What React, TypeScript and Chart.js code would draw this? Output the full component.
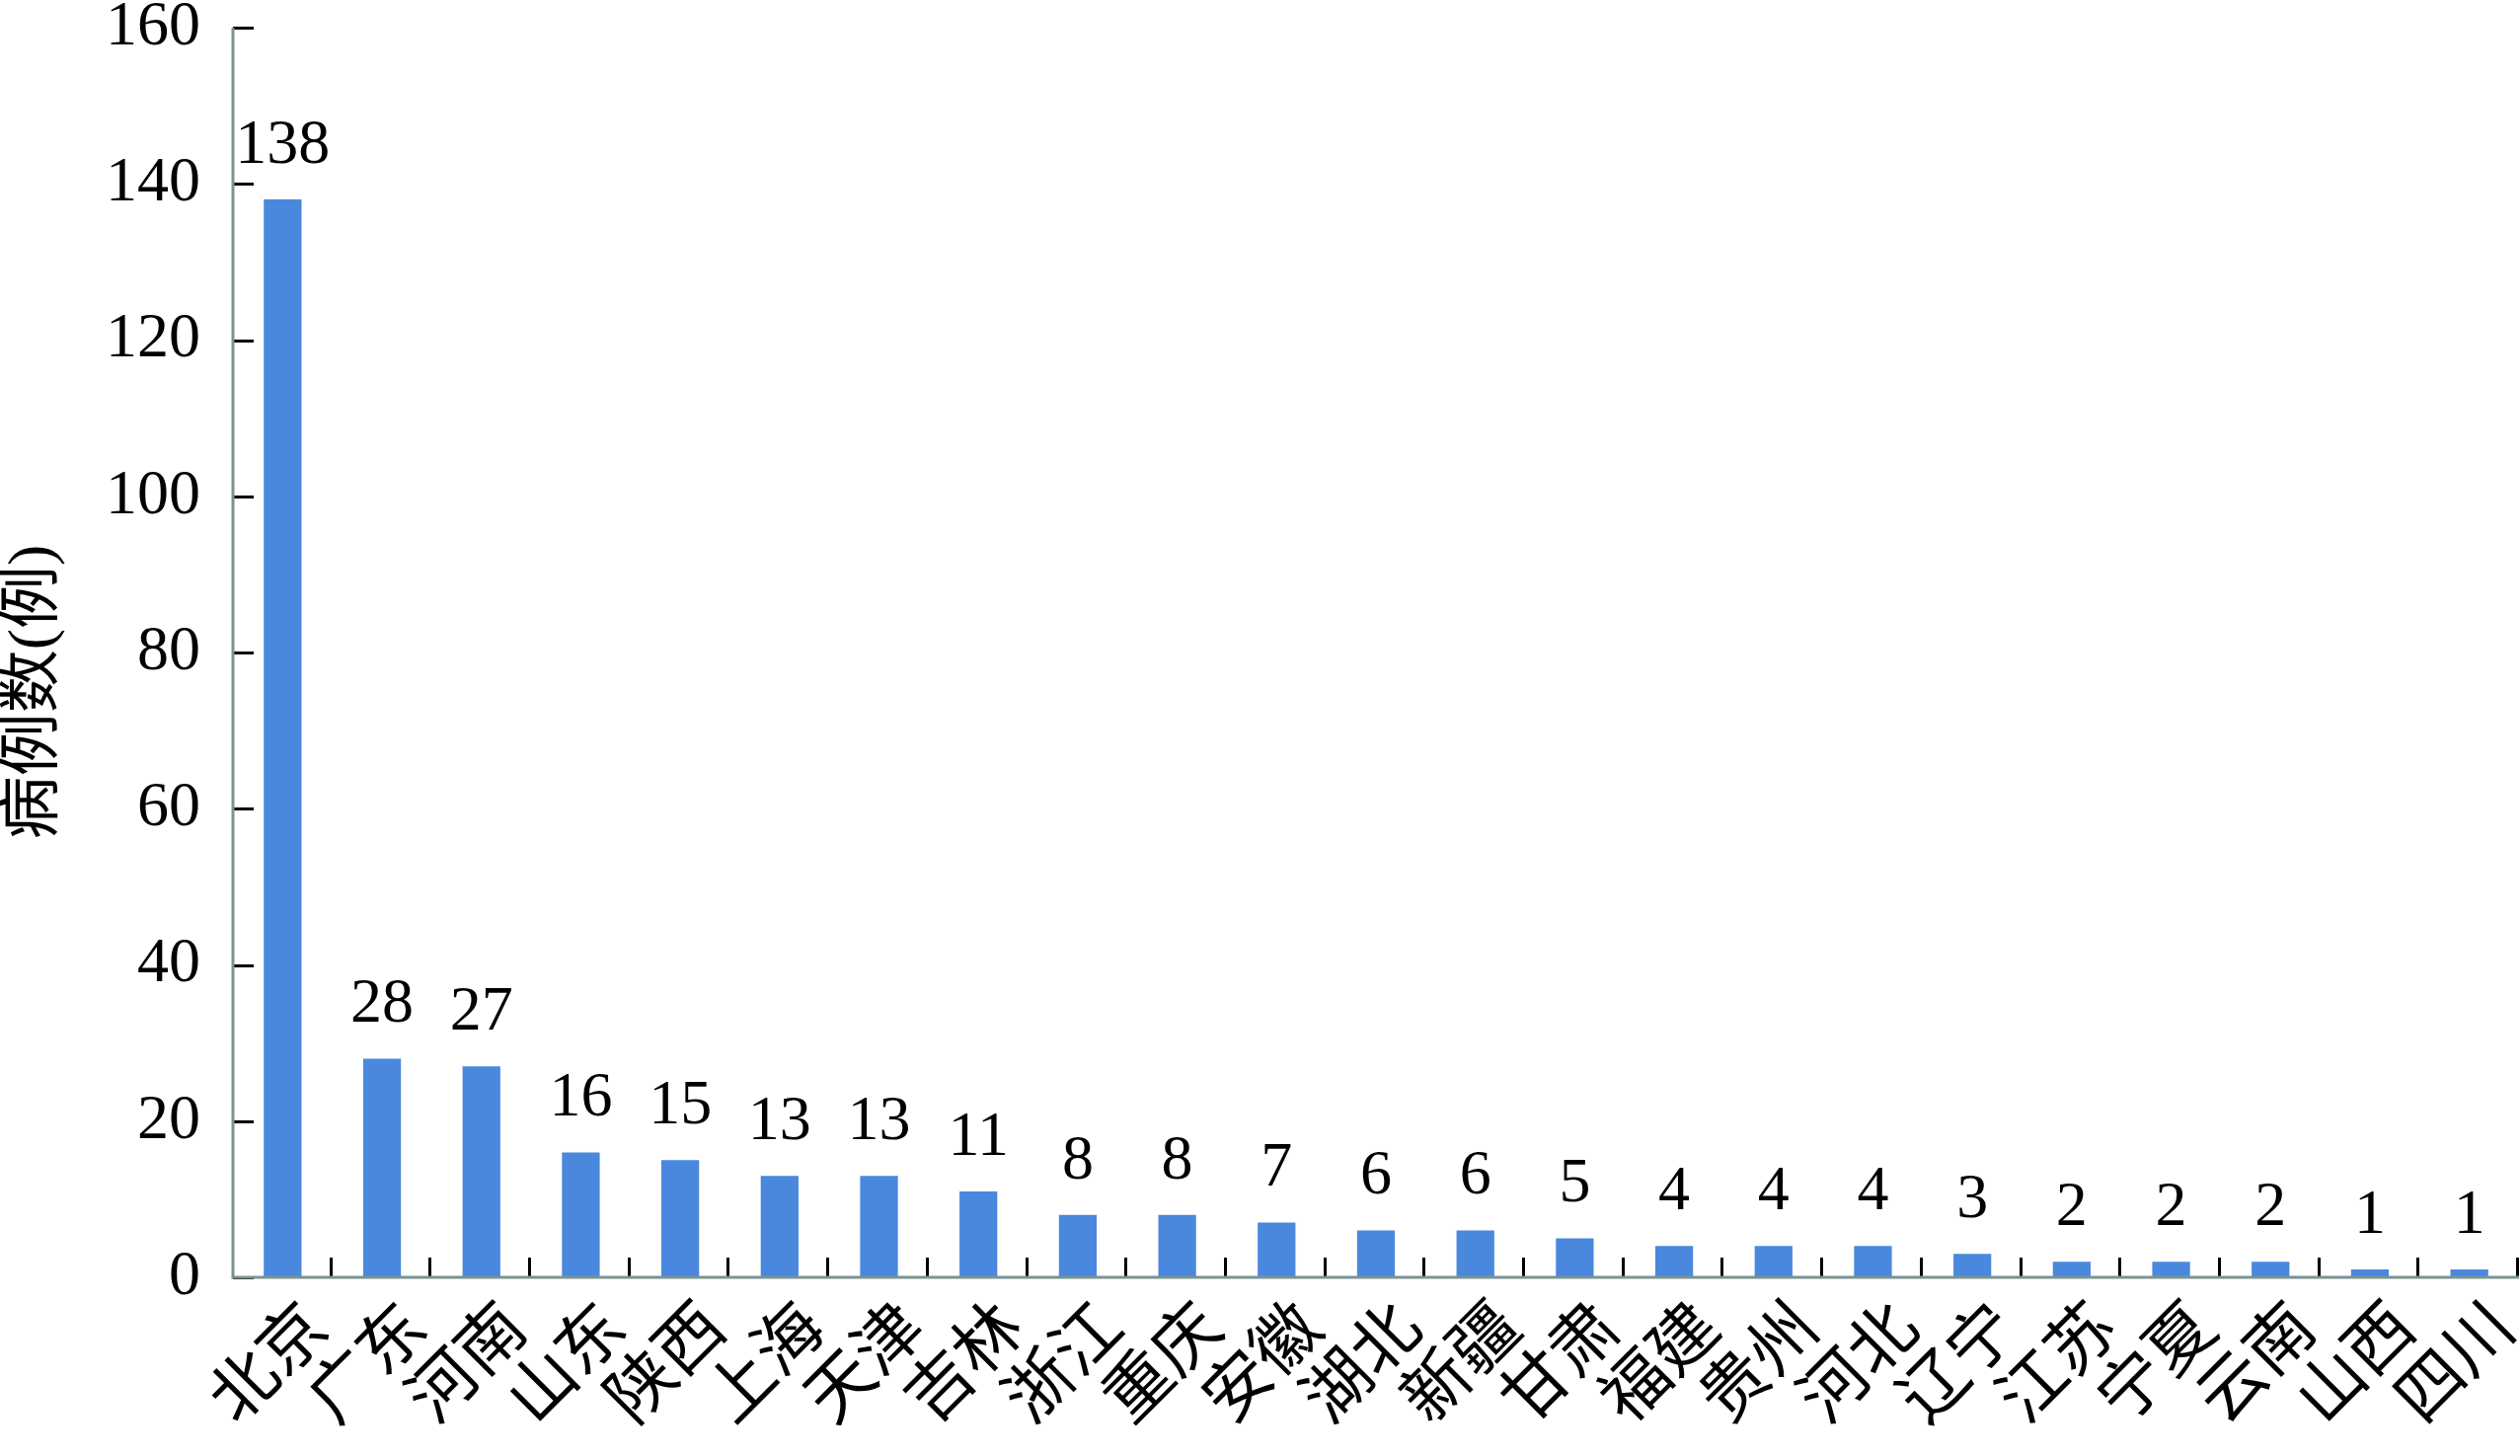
import React, { useEffect, useRef } from "react";
import { Chart, registerables } from "chart.js";

Chart.register(...registerables);

const provinces = ["北京", "广东", "河南", "山东", "陕西", "上海", "天津", "吉林", "浙江", "重庆", "安徽", "湖北", "新疆", "甘肃", "福建", "贵州", "河北", "辽宁", "江苏", "宁夏", "云南", "山西", "四川"];
const cases = [138, 28, 27, 16, 15, 13, 13, 11, 8, 8, 7, 6, 6, 5, 4, 4, 4, 3, 2, 2, 2, 1, 1];
const yTitle = "病例数(例)";
const yMin = 0;
const yMax = 160;
const yStep = 20;

const SERIF = "'Liberation Serif', 'Times New Roman', 'Noto Sans CJK SC', serif";
const CJK = "'Liberation Serif', 'Noto Sans CJK SC', serif";

const innerTicks = {
  id: "innerTicks",
  afterDraw(chart: any) {
    const { ctx, chartArea, scales } = chart;
    const y = scales.y;
    const x = scales.x;
    ctx.save();
    ctx.strokeStyle = "#000";
    ctx.lineWidth = 3;
    y.ticks.forEach((t: any) => {
      const py = Math.round(y.getPixelForValue(t.value)) + 0.5;
      ctx.beginPath();
      ctx.moveTo(chartArea.left, py);
      ctx.lineTo(chartArea.left + 21, py);
      ctx.stroke();
    });
    const n = provinces.length;
    const w = (chartArea.right - chartArea.left) / n;
    for (let i = 0; i < n; i++) {
      const px = Math.round(x.getPixelForValue(i) + w / 2) - 1.5;
      ctx.beginPath();
      ctx.moveTo(px, chartArea.bottom);
      ctx.lineTo(px, chartArea.bottom - 20);
      ctx.stroke();
    }
    // axes
    ctx.strokeStyle = "#7A9494";
    ctx.lineWidth = 3;
    ctx.beginPath();
    ctx.moveTo(chartArea.left, chartArea.top);
    ctx.lineTo(chartArea.left, chartArea.bottom);
    ctx.lineTo(chartArea.right, chartArea.bottom);
    ctx.stroke();

    // rotated category labels
    ctx.fillStyle = "#000";
    ctx.font = `68px ${CJK}`;
    ctx.textAlign = "right";
    ctx.textBaseline = "middle";
    provinces.forEach((p, i) => {
      const px = x.getPixelForValue(i) + 37;
      const py = chartArea.bottom + 42;
      ctx.save();
      ctx.translate(px, py);
      ctx.rotate(-Math.PI / 4);
      ctx.fillText(p, 0, 0);
      ctx.restore();
    });

    // y axis title
    ctx.font = `64px ${CJK}`;
    ctx.textAlign = "center";
    ctx.textBaseline = "middle";
    ctx.save();
    ctx.translate(35, (chartArea.top + chartArea.bottom) / 2 + 40);
    ctx.rotate(-Math.PI / 2);
    ctx.fillText(yTitle, 0, 0);
    ctx.restore();
    ctx.restore();
  },
};

const valueLabels = {
  id: "valueLabels",
  afterDatasetsDraw(chart: any) {
    const { ctx } = chart;
    const meta = chart.getDatasetMeta(0);
    ctx.save();
    ctx.fillStyle = "#000";
    ctx.font = `64px ${SERIF}`;
    ctx.textAlign = "center";
    ctx.textBaseline = "bottom";
    meta.data.forEach((bar: any, i: number) => {
      ctx.fillText(String(cases[i]), bar.x, bar.y - 22);
    });
    ctx.restore();
  },
};

export default function App() {
  const ref = useRef<HTMLCanvasElement | null>(null);
  useEffect(() => {
    if (!ref.current) return;
    const chart = new Chart(ref.current, {
      type: "bar",
      data: {
        labels: provinces,
        datasets: [
          {
            data: cases,
            backgroundColor: "#4A88DE",
            barPercentage: 0.38,
            categoryPercentage: 1,
          },
        ],
      },
      options: {
        responsive: false,
        animation: false,
        layout: { autoPadding: false, padding: { top: 28, right: 1, left: 0, bottom: 0 } },
        plugins: { legend: { display: false }, tooltip: { enabled: false } },
        scales: {
          x: {
            grid: { display: false, drawTicks: false },
            border: { display: false },
            ticks: { display: false, autoSkip: false },
            afterFit(scale: any) {
              scale.height = 181;
              scale.paddingLeft = 0;
              scale.paddingRight = 0;
            },
          },
          y: {
            min: yMin,
            max: yMax,
            grid: { display: false, drawTicks: false },
            border: { display: false },
            ticks: {
              stepSize: yStep,
              color: "#000",
              font: { family: SERIF, size: 64 },
              padding: 33,
            },
            afterFit(scale: any) {
              scale.width = 236;
              scale.paddingTop = 0;
              scale.paddingBottom = 0;
            },
          },
        },
      },
      plugins: [innerTicks, valueLabels],
    });
    return () => chart.destroy();
  }, []);
  return (
    <div style={{ position: "absolute", left: 0, top: 0, width: 2553, height: 1475, background: "#fff" }}>
      <canvas ref={ref} width={2553} height={1475} style={{ display: "block" }} />
    </div>
  );
}
